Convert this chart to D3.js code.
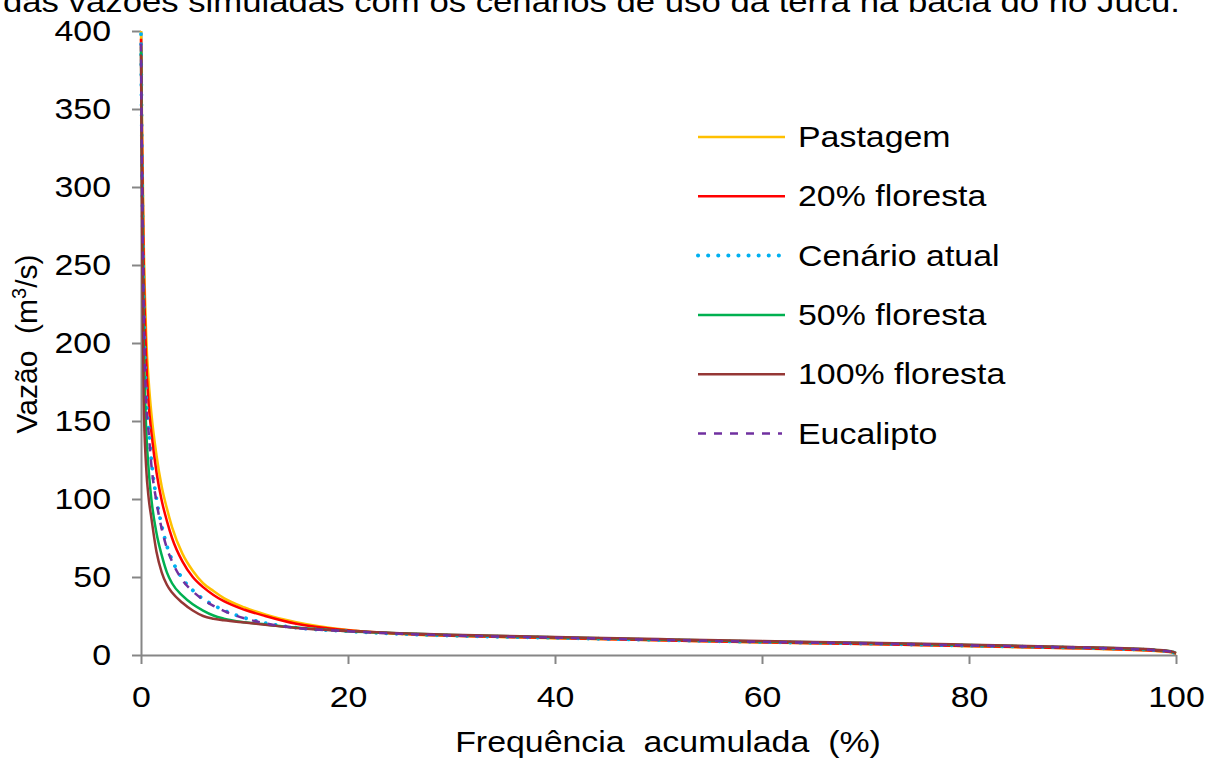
<!DOCTYPE html>
<html>
<head>
<meta charset="utf-8">
<script src="https://cdn.jsdelivr.net/npm/d3@7"></script>
<style>
  body { margin: 0; background: #fff; }
  text { font-family: "Liberation Sans", Arial, sans-serif; fill: #000; white-space: pre; }
</style>
</head>
<body>
<script>
// frequência acumulada (%) shared by every curve
const freq = [0, 0.1, 0.25, 0.5, 0.75, 1, 1.5, 2, 2.5, 3, 4, 5, 6, 7, 8, 10, 12, 15, 20, 25, 30, 40, 50, 60, 70, 80, 90, 95, 98, 99.5, 100];

// vazão (m3/s) per cenário
const pastagem    = [400, 340, 270, 205, 175, 155, 128, 108, 94, 82, 65, 54, 46, 41, 36.5, 30.5, 26, 21, 16, 13.5, 12.3, 10.8, 9.4, 8.0, 7.0, 5.6, 4.3, 3.4, 2.6, 1.8, 0.8];
const floresta20  = [395, 330, 255, 190, 160, 143, 117, 99, 86, 75, 60, 50, 43.5, 38.5, 34.5, 29, 25, 20, 15.8, 13.6, 12.4, 10.9, 9.5, 8.1, 7.1, 5.7, 4.4, 3.5, 2.7, 1.9, 0.9];
const atual       = [398, 315, 230, 165, 145, 125, 100, 83, 70, 61, 49, 41.5, 36, 32, 28.7, 23.8, 20.5, 17.5, 15.2, 13.5, 12.4, 11.0, 9.6, 8.3, 7.3, 6.0, 4.7, 3.8, 3.0, 2.1, 1.0];
const floresta50  = [390, 300, 210, 145, 118, 100, 78, 64, 53, 46, 38, 32.5, 28.5, 25.3, 23.3, 21, 19.6, 17.6, 15.3, 13.9, 12.8, 11.4, 10.0, 8.7, 7.7, 6.4, 5.0, 4.1, 3.2, 2.3, 1.2];
const floresta100 = [385, 280, 165, 120, 100, 88, 66, 53, 45, 40, 33.5, 28.5, 25, 23.3, 22.3, 20.8, 19.4, 17.3, 15.4, 14.0, 13.0, 11.6, 10.2, 8.9, 7.9, 6.6, 5.2, 4.3, 3.4, 2.4, 1.3];
const eucalipto   = [392, 310, 225, 162, 142, 122, 98, 81, 68.5, 60, 48, 40.8, 35.5, 31.5, 28.3, 23.5, 20.3, 17.4, 15.2, 13.6, 12.5, 11.1, 9.7, 8.4, 7.4, 6.1, 4.8, 3.9, 3.1, 2.2, 1.1];

const seriesNames = ["Pastagem", "20% floresta", "Cenário atual", "50% floresta", "100% floresta", "Eucalipto"];
const seriesValues = [pastagem, floresta20, atual, floresta50, floresta100, eucalipto];

const xTicks = [0, 20, 40, 60, 80, 100];
const yTicks = [0, 50, 100, 150, 200, 250, 300, 350, 400];

const styles = [
  { color: "#FFC000", width: 2.5, dash: null, cap: "butt" },
  { color: "#FF0000", width: 2.5, dash: null, cap: "butt" },
  { color: "#00B0F0", width: 3.8, dash: "0.1 10", cap: "round" },
  { color: "#00B050", width: 2.5, dash: null, cap: "butt" },
  { color: "#953735", width: 2.5, dash: null, cap: "butt" },
  { color: "#7030A0", width: 2.5, dash: "8 8", cap: "butt" }
];

const W = 1211, H = 763;
const stretch = 1.13;
const axisColor = "#868686";

const svg = d3.select("body")
    .append("svg")
    .attr("width", W)
    .attr("height", H);

const x = d3.scaleLinear().domain([0, 100]).range([141, 1176]);
const y = d3.scaleLinear().domain([0, 400]).range([655, 31]);

// place a horizontally stretched label
function label(sel, tx, ty, txt, anchor) {
  return sel.append("text")
      .attr("transform", `translate(${tx},${ty}) scale(${stretch},1)`)
      .attr("text-anchor", anchor || "start")
      .style("font-size", "30px")
      .text(txt);
}

// cut title at the top
svg.append("text")
    .attr("x", 3)
    .attr("y", 12)
    .attr("textLength", 1177)
    .attr("lengthAdjust", "spacingAndGlyphs")
    .style("font-size", "30px")
    .text("das vazões simuladas com os cenários de uso da terra na bacia do rio Jucu.");

// axes
const xAxis = svg.append("g")
    .attr("transform", `translate(0,${y(0)})`)
    .call(d3.axisBottom(x).tickValues(xTicks).tickSize(9).tickSizeOuter(0).tickPadding(22));

const yAxis = svg.append("g")
    .attr("transform", `translate(${x(0)},0)`)
    .call(d3.axisLeft(y).tickValues(yTicks).tickSize(9).tickSizeOuter(0).tickPadding(21));

[xAxis, yAxis].forEach(g => {
  g.select(".domain").attr("stroke", axisColor).attr("stroke-width", 2);
  g.selectAll(".tick line").attr("stroke", axisColor).attr("stroke-width", 2);
  g.selectAll(".tick text")
      .style("font-size", "30px")
      .style("font-family", "'Liberation Sans', Arial, sans-serif")
      .attr("fill", "#000")
      .each(function () {
        const t = d3.select(this);
        const tx = +t.attr("x") || 0;
        const ty = +t.attr("y") || 0;
        t.attr("x", 0).attr("y", 0)
         .attr("transform", `translate(${tx},${ty}) scale(${stretch},1)`);
      });
});

// lines
const line = d3.line()
    .x((d, i) => x(freq[i]))
    .y(d => y(d))
    .curve(d3.curveMonotoneX);

seriesValues.forEach((vals, i) => {
  const s = styles[i];
  svg.append("path")
      .datum(vals)
      .attr("d", line)
      .attr("fill", "none")
      .attr("stroke", s.color)
      .attr("stroke-width", s.width)
      .attr("stroke-linecap", s.cap)
      .attr("stroke-linejoin", "round")
      .attr("stroke-dasharray", s.dash);
});

// axis titles
label(svg, 668, 752, "Frequência  acumulada  (%)", "middle");

const yt = svg.append("text")
    .attr("transform", `translate(37,344) rotate(-90)`)
    .attr("text-anchor", "middle")
    .style("font-size", "30px");
yt.append("tspan").text("Vazão  (m");
yt.append("tspan").attr("dy", -11).style("font-size", "20px").text("3");
yt.append("tspan").attr("dy", 11).text("/s)");

// legend
const legend = svg.append("g");
seriesNames.forEach((name, i) => {
  const s = styles[i];
  const ly = 137 + i * 59.3;
  legend.append("line")
      .attr("x1", 698)
      .attr("x2", i === 5 ? 782 : 785)
      .attr("y1", ly)
      .attr("y2", ly)
      .attr("stroke", s.color)
      .attr("stroke-width", i === 2 ? 4 : 2.5)
      .attr("stroke-linecap", s.cap)
      .attr("stroke-dasharray", s.dash);
  label(legend, 798, ly + 10, name);
});
</script>
</body>
</html>
